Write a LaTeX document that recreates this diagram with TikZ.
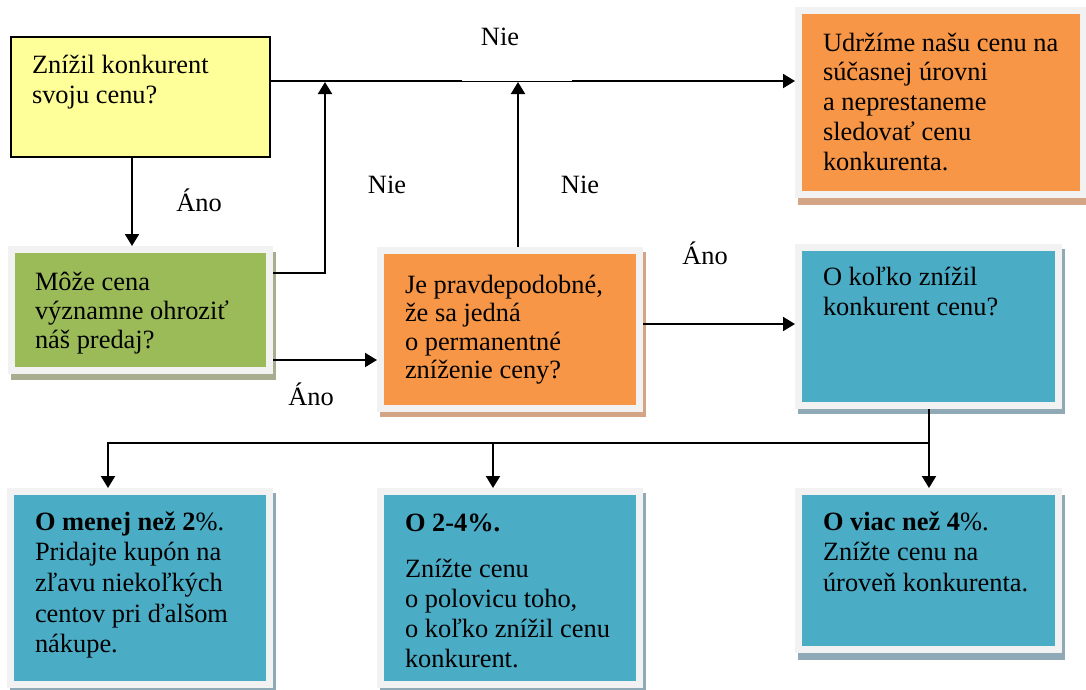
\documentclass[tikz,border=0pt]{standalone}
\usepackage{fontspec}
\setmainfont{Liberation Serif}
\usetikzlibrary{arrows.meta,backgrounds}
\definecolor{cyellow}{HTML}{FFFF99}
\definecolor{cgreen}{HTML}{9BBB59}
\definecolor{corange}{HTML}{F79646}
\definecolor{cblue}{HTML}{4BACC6}
\definecolor{cframe}{HTML}{F2F2F2}
\definecolor{sgreen}{HTML}{A7AD8E}
\definecolor{sorange}{HTML}{D4A584}
\definecolor{sblue}{HTML}{8FAAB6}
\begin{document}
\begin{tikzpicture}[x=1pt,y=-1pt,
  font=\fontsize{26.4}{30.5}\selectfont,
  box/.style={rectangle, draw=cframe, line width=7pt, inner sep=0pt, outer sep=3.5pt},
  ybox/.style={rectangle, draw=black, fill=cyellow, line width=1.8pt, inner sep=0pt, outer sep=0.9pt},
  txt/.style={anchor=base west, inner sep=0pt, outer sep=0pt},
  lbl/.style={anchor=base, inner sep=0pt},
  conn/.style={line width=2pt},
  arr/.style={conn, -{Triangle[width=14pt,length=12pt]}},
]
\useasboundingbox (0,0) rectangle (1086,689);

% boxes
\node[ybox, minimum width=259pt, minimum height=120pt] (y) at (140.5,97) {};
\node[box, fill=cgreen, minimum width=258pt, minimum height=121pt] (g) at (140.5,310) {};
\node[box, fill=corange, minimum width=259pt, minimum height=158pt] (om) at (510,329.5) {};
\node[box, fill=corange, minimum width=285pt, minimum height=184pt] (ot) at (941,102.5) {};
\node[box, fill=cblue, minimum width=260pt, minimum height=158pt] (bt) at (928.5,326.5) {};
\node[box, fill=cblue, minimum width=259pt, minimum height=193pt] (bl) at (140,588) {};
\node[box, fill=cblue, minimum width=259pt, minimum height=193pt] (bm) at (510,588) {};
\node[box, fill=cblue, minimum width=260pt, minimum height=158pt] (br) at (928.5,570.5) {};

% shadows
\begin{scope}[on background layer]
\fill[sgreen] ([shift={(3,6)}]g.north west) rectangle ([shift={(3,6)}]g.south east);
\fill[sorange] ([shift={(3,5)}]om.north west) rectangle ([shift={(3,5)}]om.south east);
\fill[sorange] ([shift={(3,7)}]ot.north west) rectangle ([shift={(3,7)}]ot.south east);
\fill[sblue] ([shift={(3,5)}]bt.north west) rectangle ([shift={(3,5)}]bt.south east);
\fill[sblue] ([shift={(3,5)}]bl.north west) rectangle ([shift={(3,5)}]bl.south east);
\fill[sblue] ([shift={(3,5)}]bm.north west) rectangle ([shift={(3,5)}]bm.south east);
\fill[sblue] ([shift={(3,7)}]br.north west) rectangle ([shift={(3,7)}]br.south east);
\end{scope}

% texts
\node[txt] (ty) at (32,73) {\parbox[t]{235pt}{\raggedright Znížil konkurent\\svoju cenu?}};
\node[txt] (tg) at (35,290) {\parbox[t]{235pt}{\raggedright\fontsize{26.4}{29.3}\selectfont Môže cena\\významne ohroziť\\náš predaj?}};
\node[txt] (tom) at (405,293) {\parbox[t]{235pt}{\raggedright\fontsize{26.4}{28.5}\selectfont Je pravdepodobné,\\že sa jedná\\o permanentné\\zníženie ceny?}};
\node[txt] (tot) at (823,51) {\parbox[t]{260pt}{\raggedright\fontsize{26.4}{29.8}\selectfont Udržíme našu cenu na\\súčasnej úrovni\\a neprestaneme\\sledovať cenu\\konkurenta.}};
\node[txt] (tbt) at (823,285) {\parbox[t]{235pt}{\raggedright O koľko znížil\\konkurent cenu?}};
\node[txt] (tbl) at (35,530) {\parbox[t]{235pt}{\raggedright\fontsize{26.4}{30.7}\selectfont {\bfseries O menej než 2}\%.\\Pridajte kupón na\\zľavu niekoľkých\\centov pri ďalšom\\nákupe.}};
\node[txt] (tbm) at (405,531) {\parbox[t]{235pt}{\raggedright\fontsize{26.4}{30.2}\selectfont {\bfseries O 2-4\%.}\\[15.8pt]Znížte cenu\\o polovicu toho,\\o koľko znížil cenu\\konkurent.}};
\node[txt] (tbr) at (823,530) {\parbox[t]{235pt}{\raggedright\fontsize{26.4}{30.7}\selectfont {\bfseries O viac než 4}\%.\\Znížte cenu na\\úroveň konkurenta.}};

% coordinates
\coordinate (topl) at (0,82);
\coordinate (k1) at (325,273);
\coordinate (k2) at (0,360);
\coordinate (k3) at (518,0);
\coordinate (k4) at (0,81);
\coordinate (k5) at (0,324);
\coordinate (k6) at (132,0);
\coordinate (j1) at (108,443);
\coordinate (j2) at (493,443);
\coordinate (j3) at (929,443);

% connectors
\draw[arr] (y.east |- k4) -- (ot.west |- k4);
\fill[white] (462,78.5) rectangle (572,83.5);
\draw[line width=1pt] (462,81.5) -- (572,81.5);
\draw[arr] (y.south -| k6) -- (g.north -| k6);
\draw[arr] (g.east |- k1) -- (k1) -- (k1 |- topl);
\draw[arr] (g.east |- k2) -- (om.west |- k2);
\draw[arr] (om.north -| k3) -- (k3 |- topl);
\draw[arr] (om.east |- k5) -- (bt.west |- k5);
\draw[arr] (bt.south -| j3) -- (br.north -| j3);
\draw[arr] (j3) -- (j1) -- (bl.north -| j1);
\draw[arr] (j2) -- (bm.north -| j2);

% labels
\node[lbl] (l1) at (500,45) {Nie};
\node[lbl] (l2) at (199,211) {Áno};
\node[lbl] (l3) at (387,193) {Nie};
\node[lbl] (l4) at (580,193) {Nie};
\node[lbl] (l5) at (311,405) {Áno};
\node[lbl] (l6) at (705,264) {Áno};
\end{tikzpicture}
\end{document}
